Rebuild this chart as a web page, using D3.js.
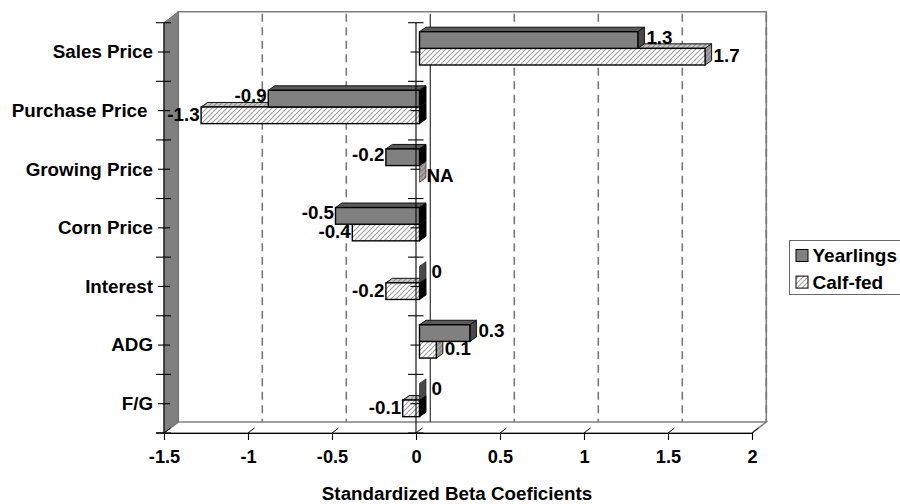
<!DOCTYPE html>
<html><head><meta charset="utf-8">
<script src="https://cdn.jsdelivr.net/npm/d3@7/dist/d3.min.js"></script>
<style>html,body{margin:0;padding:0;background:#fff;overflow:hidden}svg{display:block}text{font-family:"Liberation Sans",Arial,sans-serif;font-weight:bold;fill:#000}</style>
</head><body><svg id="c" width="900" height="504"></svg>
<script>
const categories=["Sales Price","Purchase Price","Growing Price","Corn Price","Interest","ADG","F/G"];
const yearlings=[1.3,-0.9,-0.2,-0.5,0,0.3,0];
const calfFed=[1.7,-1.3,null,-0.4,-0.2,0.1,-0.1];
const xTicks=[-1.5,-1,-0.5,0,0.5,1,1.5,2];
const seriesNames=["Yearlings","Calf-fed"];
const xTitle="Standardized Beta Coeficients";

const svg=d3.select("#c");
const x=d3.scaleLinear().domain([-1.5,2]).range([164,752]);
const y=d3.scaleBand().domain(categories).range([22.7,433]);
const sub=d3.scaleBand().domain(seriesNames).range([9,42.3]);
const wallDx=14.3, wallDy=-11, barShift=3.5, dDx=6.5, dDy=-4.5;

const defs=svg.append("defs");
function hatch(id,bg,fg){
  const p=defs.append("pattern").attr("id",id).attr("width",5).attr("height",5)
    .attr("patternUnits","userSpaceOnUse");
  p.append("rect").attr("width",5).attr("height",5).attr("fill",bg);
  p.append("path").attr("d","M-1,1L1,-1M0,5L5,0M4,6L6,4").attr("stroke",fg).attr("stroke-width",1.2);
}
hatch("hFront","#fff","#a0a0a0");
hatch("hTop","#c8c8c8","#8c8c8c");
hatch("hSide","#8a8a8a","#b0b0b0");

const [x0,x1]=x.range(), [yT,yB]=y.range();
svg.append("polygon").attr("points",[[x0,yB],[x0+wallDx,yB+wallDy],[x1+wallDx,yB+wallDy],[x1,yB]].join(" "))
  .attr("fill","#fff").attr("stroke","#808080").attr("stroke-width",1.5);
svg.append("path").attr("d",`M${x0+wallDx},${yB+wallDy}V${yT+wallDy}H${x1+wallDx}V${yB+wallDy}`)
  .attr("fill","none").attr("stroke","#808080").attr("stroke-width",1.6);
svg.append("polygon").attr("points",[[x0,yT],[x0+wallDx,yT+wallDy],[x0+wallDx,yB+wallDy],[x0,yB]].join(" "))
  .attr("fill","#808080").attr("stroke","#6e6e6e").attr("stroke-width",1);
svg.append("g").selectAll("line").data(xTicks.slice(1)).join("line")
  .attr("x1",d=>x(d)+wallDx).attr("x2",d=>x(d)+wallDx)
  .attr("y1",yT+wallDy+2).attr("y2",yB+wallDy)
  .attr("stroke",d=>d===0?"#333":"#777").attr("stroke-width",d=>d===0?1.2:1.6)
  .attr("stroke-dasharray",d=>d===0?null:"8,5.5");
svg.append("g").selectAll("line").data(xTicks).join("line")
  .attr("x1",d=>x(d)).attr("y1",yB).attr("x2",d=>x(d)+6.5).attr("y2",yB-5)
  .attr("stroke","#000").attr("stroke-width",1);

function bar(g,v,cat,s){
  if(v===undefined) return;
  const isNA=v===null, val=isNA?0:v;
  const t=y(cat)+sub(s), h=sub.bandwidth(), b=x(0)+barShift, e=x(val)+barShift;
  const L=Math.min(b,e), R=Math.max(b,e), yr=s==="Yearlings";
  if(R>L){
    g.append("polygon").attr("points",[[L,t],[L+dDx,t+dDy],[R+dDx,t+dDy],[R,t]].join(" "))
      .attr("fill",yr?"#5a5a5a":"url(#hTop)").attr("stroke","#111").attr("stroke-width",1);
  }
  const sideFill=val<0?"#000":(yr?"#4a4a4a":"url(#hSide)");
  g.append("polygon").attr("points",[[R,t],[R+dDx,t+dDy],[R+dDx,t+h+dDy],[R,t+h]].join(" "))
    .attr("fill",sideFill).attr("stroke","#111").attr("stroke-width",val===0?0.6:1);
  if(R>L){
    g.append("rect").attr("x",L).attr("y",t).attr("width",R-L).attr("height",h)
      .attr("fill",yr?"#808080":"url(#hFront)").attr("stroke","#000").attr("stroke-width",1.4);
  }
}
const barsG=svg.append("g");
categories.forEach((c,i)=>{bar(barsG,calfFed[i],c,"Calf-fed");bar(barsG,yearlings[i],c,"Yearlings");});

const edges=d3.range(categories.length+1).map(i=>yT+i*y.step());
function catAxis(px,majL,majR,minL,minR){
  const g=svg.append("g").attr("stroke","#000").attr("stroke-width",1.1);
  g.append("line").attr("x1",px).attr("x2",px).attr("y1",yT).attr("y2",yB);
  g.selectAll(".maj").data(edges).join("line").attr("class","maj")
    .attr("x1",px-majL).attr("x2",px+majR).attr("y1",d=>d).attr("y2",d=>d);
  g.selectAll(".min").data(categories).join("line").attr("class","min")
    .attr("x1",px-minL).attr("x2",px+minR).attr("y1",d=>y(d)+y.bandwidth()/2).attr("y2",d=>y(d)+y.bandwidth()/2);
}
catAxis(x(0),8,7.5,5.5,4.5);
catAxis(x0,8,7,6,6);

const ax=svg.append("g").attr("transform",`translate(0,${yB})`)
  .call(d3.axisBottom(x).tickValues(xTicks).tickFormat(d=>String(d)).tickSize(7).tickSizeOuter(0));
ax.select(".domain").attr("stroke","#000").attr("stroke-width",1.2);
ax.selectAll(".tick line").attr("stroke","#000").attr("stroke-width",1.1);
ax.selectAll("text").attr("font-size",18.2).attr("dy",0).attr("y",30.2).style("fill","#000").style("font-family",'"Liberation Sans",Arial,sans-serif');
svg.append("line").attr("x1",156).attr("x2",x0).attr("y1",yB).attr("y2",yB).attr("stroke","#000").attr("stroke-width",1.2);

svg.append("g").selectAll("text").data(categories).join("text")
  .attr("x",d=>d==="Purchase Price"?147.5:153).attr("y",d=>y(d)+y.bandwidth()/2+6.4)
  .attr("text-anchor","end").attr("font-size",18.8).text(d=>d);

function labels(vals,s,dy){
  svg.append("g").selectAll("text").data(categories.map((c,i)=>({c,v:vals[i]}))).join("text")
   .attr("x",d=>{
     const v=d.v===null?0:d.v, e=x(v)+barShift;
     if(v<0) return e-1.5;
     if(d.v===null) return e+7;
     return e+dDx+(v===0?5.5:2);
   })
   .attr("y",d=>y(d.c)+sub(s)+sub.bandwidth()/2+dy+6.6+(d.v===null?2:0))
   .attr("text-anchor",d=>d.v<0?"end":"start").attr("font-size",18.8)
   .text(d=>d.v===null?"NA":String(d.v));
}
labels(calfFed,"Calf-fed",-1);
labels(yearlings,"Yearlings",-3);

svg.append("text").attr("x",457).attr("y",499.5).attr("text-anchor","middle").attr("font-size",18.8).text(xTitle);

const lg=svg.append("g");
lg.append("rect").attr("x",789.5).attr("y",240.5).attr("width",130).attr("height",54)
  .attr("fill","#fff").attr("stroke","#666").attr("stroke-width",1);
seriesNames.forEach((n,i)=>{
  const yy=249.5+i*26.6;
  lg.append("rect").attr("x",796).attr("y",yy).attr("width",12).attr("height",12)
    .attr("fill",i?"url(#hFront)":"#808080").attr("stroke","#000").attr("stroke-width",1);
  lg.append("text").attr("x",812.5).attr("y",yy+12.5).attr("font-size",19).text(n);
});
</script></body></html>
